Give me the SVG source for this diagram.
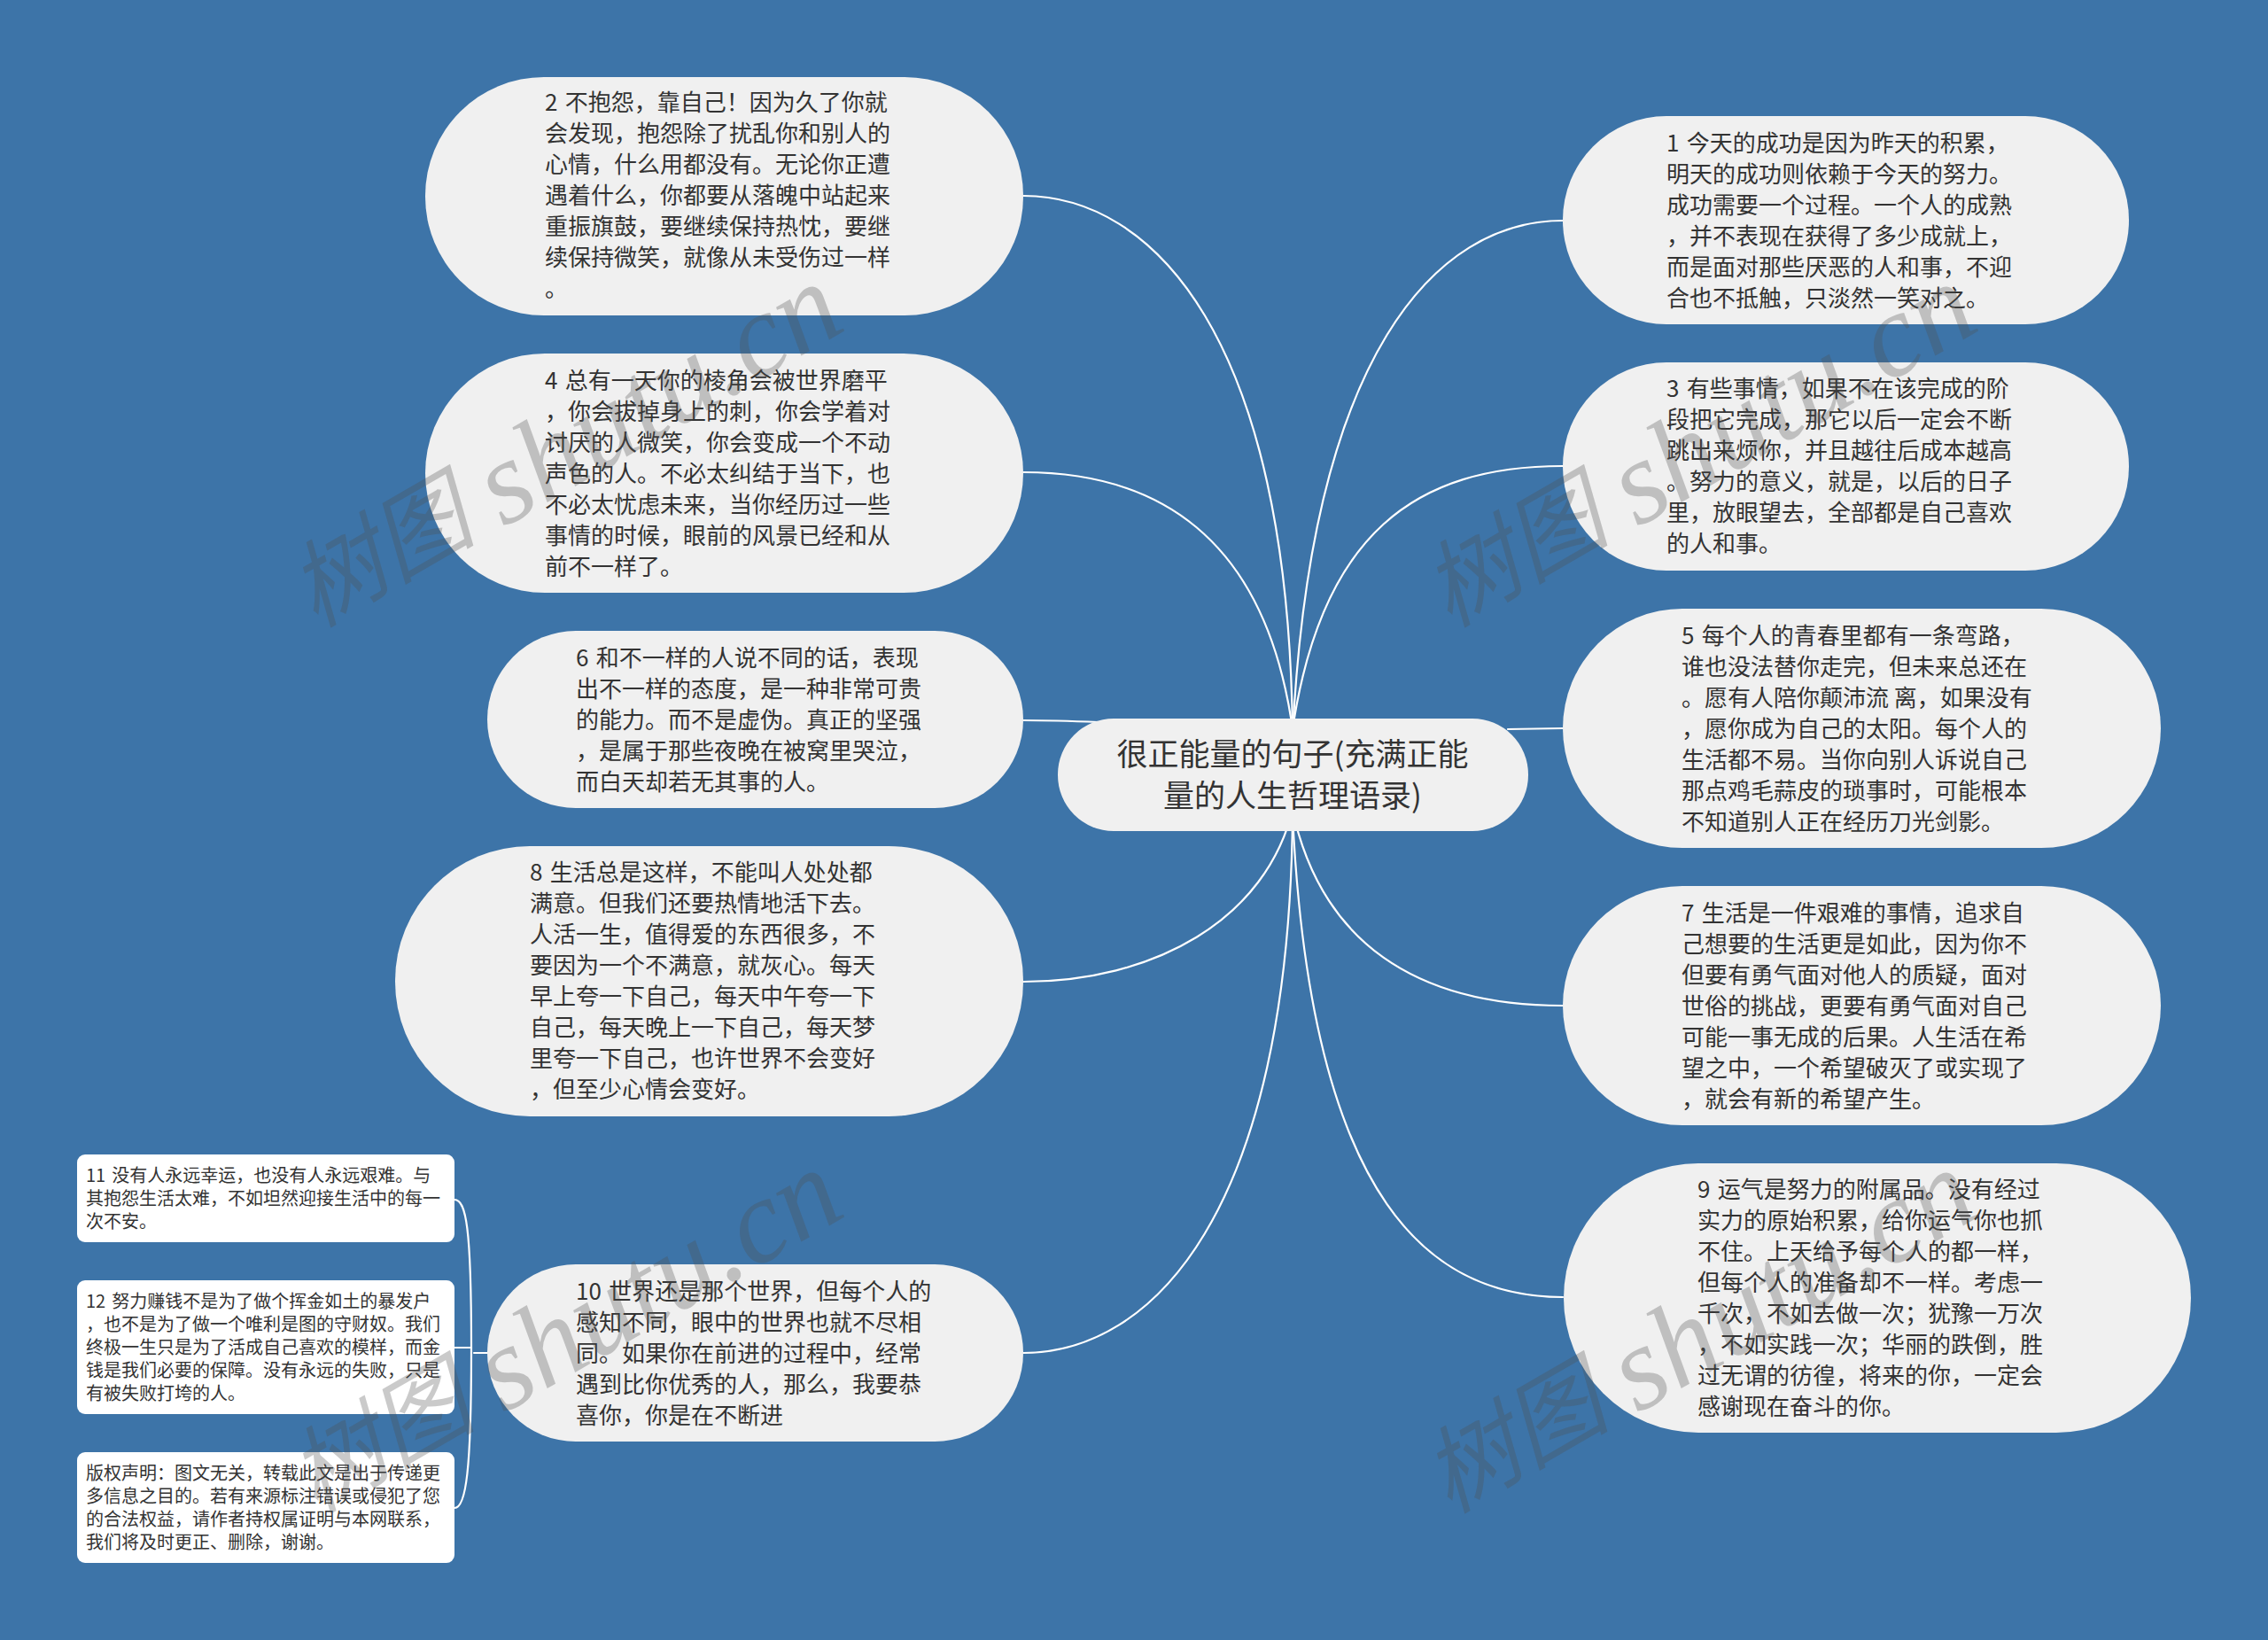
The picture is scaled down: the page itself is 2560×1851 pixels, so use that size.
<svg xmlns="http://www.w3.org/2000/svg" width="2560" height="1851" viewBox="0 0 2560 1851">
<style>
text{font-family:"Noto Sans CJK SC","Noto Sans",sans-serif;fill:#333}
.n{fill:#f0f0f0}
.s{fill:#fff}
.t{font-size:26px}
.m{font-size:20px}
.c{font-size:35px;text-anchor:middle}
.f{word-spacing:2.5px}
.l{fill:none;stroke:#fff;stroke-width:2.2;stroke-linecap:round}
.w{font-family:"Liberation Serif","Noto Sans CJK SC",serif;font-style:italic;font-size:134px;fill:#505050;fill-opacity:.3}
.k{font-size:106px}
</style>
<rect width="2560" height="1851" fill="#3d74a8"/>
<g id="connectors">
<path class="l" d="M1155 221C1300 221 1455 378 1459 830"/>
<path class="l" d="M1155 533C1300 533 1430 600 1460 830"/>
<path class="l" d="M1155 813C1190 813 1215 814 1240 815"/>
<path class="l" d="M1155 1108C1300 1108 1430 1040 1460 910"/>
<path class="l" d="M1155 1527C1300 1527 1455 1370 1459 920"/>
<path class="l" d="M1764 249C1620 249 1480 400 1459 830"/>
<path class="l" d="M1764 526C1600 526 1490 600 1458 830"/>
<path class="l" d="M1764 822L1702 823"/>
<path class="l" d="M1764 1135C1600 1135 1490 1065 1458 910"/>
<path class="l" d="M1764 1464C1620 1464 1480 1365 1459 920"/>
<path class="l" d="M550 1527L535 1527"/>
<path class="l" d="M513 1354C526 1354 532 1385 532 1521C532 1660 526 1702 513 1702"/>
<path class="l" d="M513 1521L532 1521"/>
</g>
<g id="center"><rect class="n" x="1194" y="811" width="531" height="127" rx="63" ry="63"/>
<text class="c"><tspan x="1459" y="864">很正能量的句子(充满正能</tspan><tspan x="1459" y="911">量的人生哲理语录)</tspan></text></g>
<g id="node2"><rect class="n" x="480" y="87" width="675" height="269" rx="134" ry="134"/>
<text class="t"><tspan class="f" x="615" y="125">2 不抱怨，靠自己！因为久了你就</tspan><tspan x="615" dy="35">会发现，抱怨除了扰乱你和别人的</tspan><tspan x="615" dy="35">心情，什么用都没有。无论你正遭</tspan><tspan x="615" dy="35">遇着什么，你都要从落魄中站起来</tspan><tspan x="615" dy="35">重振旗鼓，要继续保持热忱，要继</tspan><tspan x="615" dy="35">续保持微笑，就像从未受伤过一样</tspan><tspan x="615" dy="35">。</tspan></text></g>
<g id="node4"><rect class="n" x="480" y="399" width="675" height="270" rx="135" ry="135"/>
<text class="t"><tspan class="f" x="615" y="439">4 总有一天你的棱角会被世界磨平</tspan><tspan x="615" dy="35">，你会拔掉身上的刺，你会学着对</tspan><tspan x="615" dy="35">讨厌的人微笑，你会变成一个不动</tspan><tspan x="615" dy="35">声色的人。不必太纠结于当下，也</tspan><tspan x="615" dy="35">不必太忧虑未来，当你经历过一些</tspan><tspan x="615" dy="35">事情的时候，眼前的风景已经和从</tspan><tspan x="615" dy="35">前不一样了。</tspan></text></g>
<g id="node6"><rect class="n" x="550" y="712" width="605" height="200" rx="100" ry="100"/>
<text class="t"><tspan class="f" x="650" y="752">6 和不一样的人说不同的话，表现</tspan><tspan x="650" dy="35">出不一样的态度，是一种非常可贵</tspan><tspan x="650" dy="35">的能力。而不是虚伪。真正的坚强</tspan><tspan x="650" dy="35">，是属于那些夜晚在被窝里哭泣，</tspan><tspan x="650" dy="35">而白天却若无其事的人。</tspan></text></g>
<g id="node8"><rect class="n" x="446" y="955" width="709" height="305" rx="152" ry="152"/>
<text class="t"><tspan class="f" x="598" y="994">8 生活总是这样，不能叫人处处都</tspan><tspan x="598" dy="35">满意。但我们还要热情地活下去。</tspan><tspan x="598" dy="35">人活一生，值得爱的东西很多，不</tspan><tspan x="598" dy="35">要因为一个不满意，就灰心。每天</tspan><tspan x="598" dy="35">早上夸一下自己，每天中午夸一下</tspan><tspan x="598" dy="35">自己，每天晚上一下自己，每天梦</tspan><tspan x="598" dy="35">里夸一下自己，也许世界不会变好</tspan><tspan x="598" dy="35">，但至少心情会变好。</tspan></text></g>
<g id="node10"><rect class="n" x="550" y="1427" width="605" height="200" rx="100" ry="100"/>
<text class="t"><tspan class="f" x="650" y="1467">10 世界还是那个世界，但每个人的</tspan><tspan x="650" dy="35">感知不同，眼中的世界也就不尽相</tspan><tspan x="650" dy="35">同。如果你在前进的过程中，经常</tspan><tspan x="650" dy="35">遇到比你优秀的人，那么，我要恭</tspan><tspan x="650" dy="35">喜你，你是在不断进</tspan></text></g>
<g id="node11"><rect class="s" x="87" y="1303" width="426" height="99" rx="9" ry="9"/>
<text class="m"><tspan class="f" x="97" y="1334">11 没有人永远幸运，也没有人永远艰难。与</tspan><tspan x="97" dy="26">其抱怨生活太难，不如坦然迎接生活中的每一</tspan><tspan x="97" dy="26">次不安。</tspan></text></g>
<g id="node12"><rect class="s" x="87" y="1445" width="426" height="151" rx="9" ry="9"/>
<text class="m"><tspan class="f" x="97" y="1476">12 努力赚钱不是为了做个挥金如土的暴发户</tspan><tspan x="97" dy="26">，也不是为了做一个唯利是图的守财奴。我们</tspan><tspan x="97" dy="26">终极一生只是为了活成自己喜欢的模样，而金</tspan><tspan x="97" dy="26">钱是我们必要的保障。没有永远的失败，只是</tspan><tspan x="97" dy="26">有被失败打垮的人。</tspan></text></g>
<g id="copyright"><rect class="s" x="87" y="1639" width="426" height="125" rx="9" ry="9"/>
<text class="m"><tspan x="97" y="1670">版权声明：图文无关，转载此文是出于传递更</tspan><tspan x="97" dy="26">多信息之目的。若有来源标注错误或侵犯了您</tspan><tspan x="97" dy="26">的合法权益，请作者持权属证明与本网联系，</tspan><tspan x="97" dy="26">我们将及时更正、删除，谢谢。</tspan></text></g>
<g id="node1"><rect class="n" x="1764" y="131" width="639" height="235" rx="117" ry="117"/>
<text class="t"><tspan class="f" x="1881" y="171">1 今天的成功是因为昨天的积累，</tspan><tspan x="1881" dy="35">明天的成功则依赖于今天的努力。</tspan><tspan x="1881" dy="35">成功需要一个过程。一个人的成熟</tspan><tspan x="1881" dy="35">，并不表现在获得了多少成就上，</tspan><tspan x="1881" dy="35">而是面对那些厌恶的人和事，不迎</tspan><tspan x="1881" dy="35">合也不抵触，只淡然一笑对之。</tspan></text></g>
<g id="node3"><rect class="n" x="1764" y="409" width="639" height="235" rx="117" ry="117"/>
<text class="t"><tspan class="f" x="1881" y="448">3 有些事情，如果不在该完成的阶</tspan><tspan x="1881" dy="35">段把它完成，那它以后一定会不断</tspan><tspan x="1881" dy="35">跳出来烦你，并且越往后成本越高</tspan><tspan x="1881" dy="35">。努力的意义，就是，以后的日子</tspan><tspan x="1881" dy="35">里，放眼望去，全部都是自己喜欢</tspan><tspan x="1881" dy="35">的人和事。</tspan></text></g>
<g id="node5"><rect class="n" x="1764" y="687" width="675" height="270" rx="135" ry="135"/>
<text class="t"><tspan class="f" x="1898" y="727">5 每个人的青春里都有一条弯路，</tspan><tspan x="1898" dy="35">谁也没法替你走完，但未来总还在</tspan><tspan x="1898" dy="35">。愿有人陪你颠沛流 离，如果没有</tspan><tspan x="1898" dy="35">，愿你成为自己的太阳。每个人的</tspan><tspan x="1898" dy="35">生活都不易。当你向别人诉说自己</tspan><tspan x="1898" dy="35">那点鸡毛蒜皮的琐事时，可能根本</tspan><tspan x="1898" dy="35">不知道别人正在经历刀光剑影。</tspan></text></g>
<g id="node7"><rect class="n" x="1764" y="1000" width="675" height="270" rx="135" ry="135"/>
<text class="t"><tspan class="f" x="1898" y="1040">7 生活是一件艰难的事情，追求自</tspan><tspan x="1898" dy="35">己想要的生活更是如此，因为你不</tspan><tspan x="1898" dy="35">但要有勇气面对他人的质疑，面对</tspan><tspan x="1898" dy="35">世俗的挑战，更要有勇气面对自己</tspan><tspan x="1898" dy="35">可能一事无成的后果。人生活在希</tspan><tspan x="1898" dy="35">望之中，一个希望破灭了或实现了</tspan><tspan x="1898" dy="35">，就会有新的希望产生。</tspan></text></g>
<g id="node9"><rect class="n" x="1765" y="1313" width="708" height="304" rx="152" ry="152"/>
<text class="t"><tspan class="f" x="1916" y="1352">9 运气是努力的附属品。没有经过</tspan><tspan x="1916" dy="35">实力的原始积累，给你运气你也抓</tspan><tspan x="1916" dy="35">不住。上天给予每个人的都一样，</tspan><tspan x="1916" dy="35">但每个人的准备却不一样。考虑一</tspan><tspan x="1916" dy="35">千次，不如去做一次；犹豫一万次</tspan><tspan x="1916" dy="35">，不如实践一次；华丽的跌倒，胜</tspan><tspan x="1916" dy="35">过无谓的彷徨，将来的你，一定会</tspan><tspan x="1916" dy="35">感谢现在奋斗的你。</tspan></text></g>
<g id="watermarks">
<text class="w" transform="translate(356 709) rotate(-30)"><tspan class="k">树图 </tspan><tspan dx="2" dy="8">shutu.cn</tspan></text>
<text class="w" transform="translate(1636 709) rotate(-30)"><tspan class="k">树图 </tspan><tspan dx="2" dy="8">shutu.cn</tspan></text>
<text class="w" transform="translate(356 1709) rotate(-30)"><tspan class="k">树图 </tspan><tspan dx="2" dy="8">shutu.cn</tspan></text>
<text class="w" transform="translate(1636 1709) rotate(-30)"><tspan class="k">树图 </tspan><tspan dx="2" dy="8">shutu.cn</tspan></text>
</g>
</svg>
